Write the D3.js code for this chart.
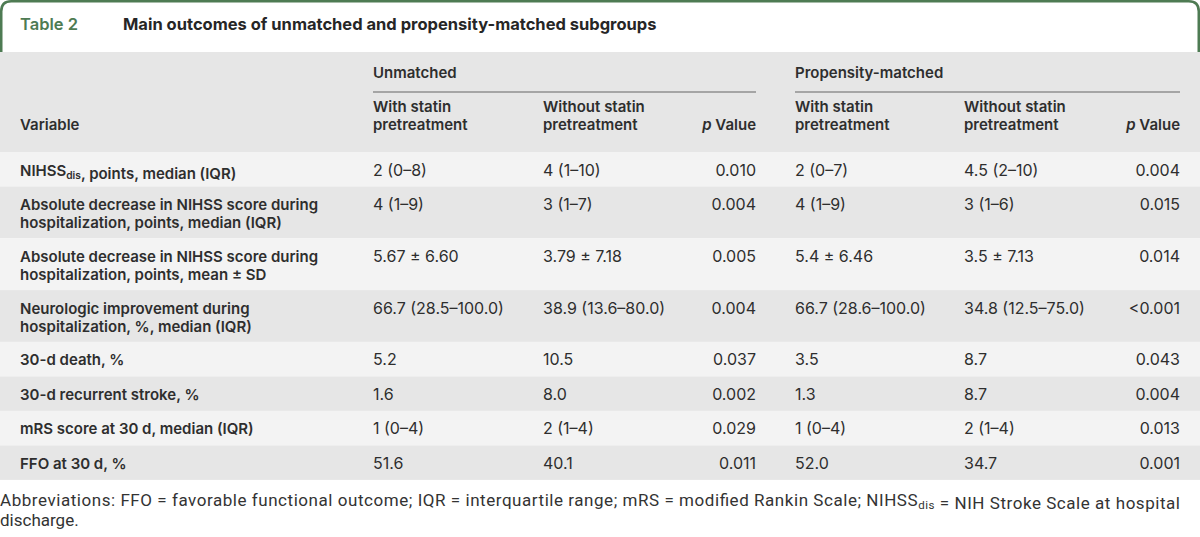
<!DOCTYPE html>
<html><head><meta charset="utf-8"><script src="https://cdn.jsdelivr.net/npm/d3@7"></script>
<style>body{margin:0;background:#fff}</style></head>
<body>
<svg id="chart" width="1200" height="537"></svg>
<script>
// ---------- data ----------
const tableNumber = "Table 2";
const tableTitle = "Main outcomes of unmatched and propensity-matched subgroups";
const groupLabels = ["Unmatched", "Propensity-matched"];
const subHeaders = ["With statin\npretreatment", "Without statin\npretreatment", "p Value"];
const variableHeader = "Variable";
const variables = [
  "NIHSS_{dis}, points, median (IQR)",
  "Absolute decrease in NIHSS score during\nhospitalization, points, median (IQR)",
  "Absolute decrease in NIHSS score during\nhospitalization, points, mean ± SD",
  "Neurologic improvement during\nhospitalization, %, median (IQR)",
  "30-d death, %",
  "30-d recurrent stroke, %",
  "mRS score at 30 d, median (IQR)",
  "FFO at 30 d, %"
];
const unmatchedWith    = ["2 (0–8)", "4 (1–9)", "5.67 ± 6.60", "66.7 (28.5–100.0)", "5.2", "1.6", "1 (0–4)", "51.6"];
const unmatchedWithout = ["4 (1–10)", "3 (1–7)", "3.79 ± 7.18", "38.9 (13.6–80.0)", "10.5", "8.0", "2 (1–4)", "40.1"];
const unmatchedP       = ["0.010", "0.004", "0.005", "0.004", "0.037", "0.002", "0.029", "0.011"];
const matchedWith      = ["2 (0–7)", "4 (1–9)", "5.4 ± 6.46", "66.7 (28.6–100.0)", "3.5", "1.3", "1 (0–4)", "52.0"];
const matchedWithout   = ["4.5 (2–10)", "3 (1–6)", "3.5 ± 7.13", "34.8 (12.5–75.0)", "8.7", "8.7", "2 (1–4)", "34.7"];
const matchedP         = ["0.004", "0.015", "0.014", "<0.001", "0.043", "0.004", "0.013", "0.001"];
const footnoteLines = [
  "Abbreviations: FFO = favorable functional outcome; IQR = interquartile range; mRS = modified Rankin Scale; NIHSS_{dis} = NIH Stroke Scale at hospital",
  "discharge."
];

// ---------- layout ----------
const W = 1200;
const green = "#4e7b53";
const ink = "#2e2e2e";
const labelFont = "Inter, 'Liberation Sans', sans-serif";
const dataFont = "Inter, 'Liberation Sans', sans-serif";
const svg = d3.select("#chart");

const columns = [
  {key: "uw", values: unmatchedWith, anchor: "start"},
  {key: "uwo", values: unmatchedWithout, anchor: "start"},
  {key: "up", values: unmatchedP, anchor: "end"},
  {key: "mw", values: matchedWith, anchor: "start"},
  {key: "mwo", values: matchedWithout, anchor: "start"},
  {key: "mp", values: matchedP, anchor: "end"}
];
const xCol = d3.scaleOrdinal()
  .domain(["var", "uw", "uwo", "up", "mw", "mwo", "mp"])
  .range([20, 373, 543, 756, 795, 964, 1180]);

// rows: cumulative band layout from line counts
const headerTop = 52, headerBottom = 152;
const oneLine = 34.5, extraLine = 17.3, lineGap = 18, firstBase = 23.5;
const rows = variables.map((v, i) => ({i, label: v, lines: v.split("\n").length}));
let acc = headerBottom;
rows.forEach(r => { r.h = oneLine + (r.lines - 1) * extraLine; r.y = acc; acc += r.h; });
const yRow = d3.scaleOrdinal().domain(rows.map(r => r.i)).range(rows.map(r => r.y));

// helper to write text with _{sub} markup
function richText(sel, str, size) {
  const parts = str.split(/(_\{[^}]*\})/).filter(s => s.length);
  parts.forEach(p => {
    if (p.startsWith("_{")) {
      sel.append("tspan").attr("font-size", size * 0.68).attr("dy", 3).text(p.slice(2, -1));
      sel.append("tspan").attr("dy", -3).text("");
    } else {
      sel.append("tspan").text(p);
    }
  });
}

// ---------- title bar ----------
const r = 10;
svg.append("path")
  .attr("d", `M1.25,52 L1.25,${1.25 + r} Q1.25,1.25 ${1.25 + r},1.25 L${W - 1.25 - r},1.25 Q${W - 1.25},1.25 ${W - 1.25},${1.25 + r} L${W - 1.25},52`)
  .attr("fill", "none").attr("stroke", green).attr("stroke-width", 2.5);
svg.append("text").attr("x", 20).attr("y", 30)
  .attr("font-family", labelFont).attr("font-weight", 600).attr("font-size", 16.5)
  .attr("fill", green).text(tableNumber);
svg.append("text").attr("x", 123).attr("y", 30)
  .attr("font-family", labelFont).attr("font-weight", 700).attr("font-size", 16.5)
  .attr("fill", "#262626").text(tableTitle);

// ---------- header ----------
svg.append("rect").attr("x", 0).attr("y", headerTop).attr("width", W).attr("height", headerBottom - headerTop).attr("fill", "#e6e6e6");
const groups = [
  {label: groupLabels[0], x0: xCol("uw"), x1: xCol("up")},
  {label: groupLabels[1], x0: xCol("mw"), x1: xCol("mp")}
];
groups.forEach(g => {
  svg.append("text").attr("x", g.x0).attr("y", 78)
    .attr("font-family", labelFont).attr("font-weight", 600).attr("font-size", 15)
    .attr("fill", ink).text(g.label);
  svg.append("line").attr("x1", g.x0).attr("x2", g.x1).attr("y1", 92).attr("y2", 92)
    .attr("stroke", "#8f8f8f").attr("stroke-width", 1.5);
});
svg.append("text").attr("x", xCol("var")).attr("y", 130)
  .attr("font-family", labelFont).attr("font-weight", 600).attr("font-size", 15)
  .attr("fill", ink).text(variableHeader);
columns.forEach((c, ci) => {
  const h = subHeaders[ci % 3];
  const t = svg.append("text").attr("x", xCol(c.key)).attr("y", 112)
    .attr("font-family", labelFont).attr("font-weight", 600).attr("font-size", 15)
    .attr("fill", ink).attr("text-anchor", c.anchor);
  if (h.startsWith("p ")) {
    t.attr("y", 130);
    t.append("tspan").attr("font-style", "italic").text("p");
    t.append("tspan").text(h.slice(1));
  } else {
    h.split("\n").forEach((ln, li) => t.append("tspan").attr("x", xCol(c.key)).attr("dy", li ? lineGap : 0).text(ln));
  }
});

// ---------- body ----------
const rowG = svg.selectAll("g.row").data(rows).join("g").attr("class", "row")
  .attr("transform", d => `translate(0,${yRow(d.i)})`);
rowG.append("rect").attr("x", 0).attr("y", 0).attr("width", W).attr("height", d => d.h)
  .attr("fill", d => d.i % 2 === 0 ? "#f3f3f3" : "#e6e6e6");
rowG.each(function(d) {
  const g = d3.select(this);
  const t = g.append("text").attr("y", firstBase)
    .attr("font-family", labelFont).attr("font-weight", 600).attr("font-size", 15).attr("fill", ink);
  d.label.split("\n").forEach((ln, li) => {
    const line = t.append("tspan").attr("x", xCol("var")).attr("y", firstBase + li * lineGap);
    richText(line, ln, 15);
  });
  columns.forEach(c => {
    g.append("text").attr("x", xCol(c.key)).attr("y", firstBase)
      .attr("text-anchor", c.anchor)
      .attr("font-family", dataFont).attr("font-size", 16).attr("fill", ink)
      .text(c.values[d.i]);
  });
});

// ---------- footnote ----------
footnoteLines.forEach((ln, li) => {
  const t = svg.append("text").attr("x", 0).attr("y", 506 + li * 19.5)
    .attr("font-family", "Roboto, sans-serif").attr("font-size", 17).attr("fill", "#333");
  richText(t, ln, 17);
  if (li === 0) t.attr("textLength", 1180).attr("lengthAdjust", "spacing");
});
</script>
</body></html>
